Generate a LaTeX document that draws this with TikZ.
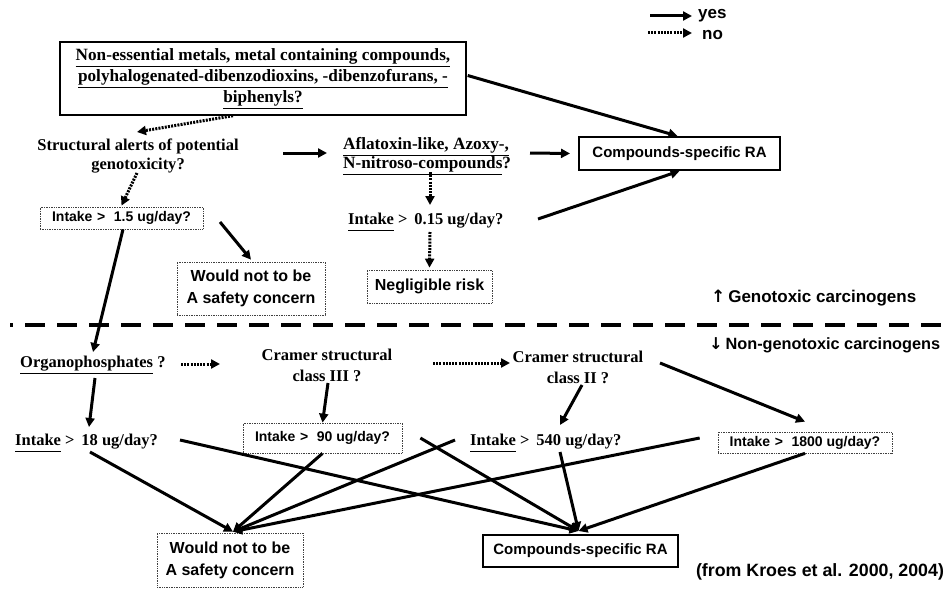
\documentclass[tikz,border=0pt]{standalone}
\usepackage{fontspec}
\setmainfont{Liberation Serif}
\setsansfont{Liberation Sans}
\newfontfamily\arrfont{DejaVu Sans}
\usetikzlibrary{arrows.meta,calc}
% underlined text with a common depth
\newcommand{\undl}[1]{\underline{#1\vphantom{gy}}}

\begin{document}
\begin{tikzpicture}[x=1pt,y=-1pt,
  qtext/.style={font=\fontsize{16.5}{19}\selectfont\bfseries, align=center, inner sep=0pt},
  stext/.style={font=\sffamily\bfseries\fontsize{14}{16}\selectfont, align=center, inner sep=0pt},
  dotbox/.style={draw=black!75, densely dotted, line width=0.7pt},
  rabox/.style={draw=black, line width=2pt, font=\sffamily\bfseries\fontsize{15}{17}\selectfont, inner sep=0pt},
  yesarrow/.style={line width=3pt, -{Triangle[length=9pt,width=9pt]}},
  noarrow/.style={yesarrow, dash pattern=on 2pt off 1.2pt},
]
\useasboundingbox (0,0) rectangle (949,591);

% ---- legend
\coordinate (yesA) at (650,16);
\node[stext, font=\sffamily\bfseries\fontsize{17}{19}\selectfont, anchor=west] (yes) at (698,16) {yes};
\coordinate (noA) at (648,33);
\node[stext, font=\sffamily\bfseries\fontsize{17}{19}\selectfont, anchor=west] (no) at (702,35) {no};
\draw[yesarrow] (yesA) -- ($(yes.west)+(-6,0)$);
\draw[noarrow] (noA) -- ($(no.west)+(-10,-2)$);

% ---- genotoxic part
\node[draw=black, line width=1.4pt, minimum width=406pt, minimum height=73pt,
      qtext, font=\fontsize{17.2}{21}\selectfont\bfseries] (top) at (263,78.5)
  {\undl{Non-essential metals, metal containing compounds,}\\
   \undl{polyhalogenated-dibenzodioxins, -dibenzofurans, -}\\
   \undl{biphenyls?}};

\node[qtext] (q1) at (138,156) {Structural alerts of potential\\genotoxicity?};
\node[qtext, font=\fontsize{17.2}{19}\selectfont\bfseries, align=left, anchor=west] (q2) at (343,156)
  {\undl{Aflatoxin-like, Azoxy-,}\\\undl{N-nitroso-compounds}?};
\node[rabox, minimum width=201pt, minimum height=33pt] (ra1) at (679.5,153.5) {Compounds-specific RA};

\node[dotbox, stext, minimum width=163pt, minimum height=22pt] (i15) at (121.5,218) {Intake\,\,{>}\,\, 1.5 ug/day?};
\node[dotbox, stext, font=\sffamily\bfseries\fontsize{16}{22}\selectfont, minimum width=148pt, minimum height=53pt] (safe1) at (251,288.5) {Would not to be\\A safety concern};
\node[qtext, anchor=west] (i015) at (348,222) {\undl{Intake} > \,0.15 ug/day?};
\node[dotbox, stext, font=\sffamily\bfseries\fontsize{16}{18}\selectfont, minimum width=125pt, minimum height=33pt] (negl) at (429.5,286.5) {Negligible risk};

\node[stext, font=\sffamily\bfseries\fontsize{17}{19}\selectfont, anchor=west] (geno) at (711,298) {{\arrfont ↑}\,Genotoxic carcinogens};

% ---- separator between the two groups
\draw[line width=4pt, dash pattern=on 20pt off 12pt, dash phase=17pt] (10,325) -- (941,325);

% ---- non-genotoxic part
\node[stext, font=\sffamily\bfseries\fontsize{16.3}{19}\selectfont, anchor=west] (nongeno) at (709,345) {{\arrfont ↓}\,Non-genotoxic carcinogens};

\node[qtext, anchor=west] (org) at (20,365) {\undl{Organophosphates} ?};
\node[qtext, font=\fontsize{16.5}{21}\selectfont\bfseries] (c3) at (327,365) {Cramer structural\\class III ?};
\node[qtext, font=\fontsize{16.5}{21}\selectfont\bfseries] (c2) at (578,367) {Cramer structural\\class II ?};

\node[qtext, anchor=west] (i18) at (15,443) {\undl{Intake} > \,18 ug/day?};
\node[dotbox, stext, minimum width=159pt, minimum height=30pt] (i90) at (322.5,438) {Intake\,\,{>}\,\, 90 ug/day?};
\node[qtext, anchor=west] (i540) at (470,443) {\undl{Intake} > \,540 ug/day?};
\node[dotbox, stext, minimum width=174pt, minimum height=21pt] (i1800) at (805,442.5) {Intake\,\,{>}\,\, 1800 ug/day?};

\node[dotbox, stext, font=\sffamily\bfseries\fontsize{16}{22}\selectfont, minimum width=146pt, minimum height=54pt] (safe2) at (230,560) {Would not to be\\A safety concern};
\node[rabox, minimum width=195pt, minimum height=32pt] (ra2) at (580.5,551) {Compounds-specific RA};

\node[stext, font=\sffamily\bfseries\fontsize{17.8}{20}\selectfont] (credit) at (820,572) {(from Kroes et al. 2000, 2004)};

% ---- connectors, upper part
\draw[noarrow]  ($(top.south)+(-30,0)$) -- ($(q1.center)+(-1,-24)$);
\draw[yesarrow] ($(top.east)+(1,-3)$) -- ($(ra1.north)+(-2,0)$);
\draw[yesarrow] ($(q1.center)+(145,-3)$) -- ($(q2.west)+(-16,-3)$);
\draw[yesarrow] ($(q2.west)+(187,-3)$) -- ($(ra1.west)+(-8,0)$);
\draw[noarrow]  ($(q1.center)+(-1,17)$) -- ($(i15.north)+(0,-1)$);
\draw[yesarrow] ($(i15.center)+(98.5,4)$) -- ($(safe1.north)+(0,-2)$);
\draw[yesarrow] ($(i15.south)+(1.5,0)$) -- ($(org.west)+(73,-13)$);
\draw[noarrow]  ($(q2.west)+(87,16)$) -- ($(i015.west)+(82,-17)$);
\draw[yesarrow] ($(i015.west)+(190,-3)$) -- (ra1.south);
\draw[noarrow]  ($(i015.west)+(82,10)$) -- ($(negl.north)+(0,-2)$);

% ---- connectors, lower part
\draw[noarrow]  ($(org.west)+(161,-1)$) -- ($(c3.center)+(-107,-1)$);
\draw[noarrow]  ($(c3.center)+(106,-2)$) -- ($(c2.center)+(-68,-4)$);
\draw[yesarrow] ($(c2.center)+(82,-4)$) -- ($(i1800.north)+(0,-10)$);
\draw[yesarrow] ($(c2.center)+(4,18)$) -- ($(i540.west)+(90,-18)$);
\draw[yesarrow] ($(org.west)+(75,13)$) -- ($(i18.west)+(74,-16)$);
\draw[yesarrow] ($(c3.center)+(1,18)$) -- (i90.north);

% fan into the two end boxes
\draw[yesarrow] ($(i18.west)+(75,9)$) -- ($(safe2.north)+(3,-1)$);
\draw[yesarrow] (i90.south) -- ($(safe2.north)+(3,-1)$);
\draw[yesarrow] ($(i540.west)+(-15,-3)$) -- ($(safe2.north)+(3,-1)$);
\draw[yesarrow] ($(i1800.west)+(-18,-4.5)$) -- ($(safe2.north)+(3,-1)$);
\draw[yesarrow] ($(i18.west)+(165,-3)$) -- ($(ra2.north)+(-2,-3)$);
\draw[yesarrow] ($(i90.east)+(18,0)$) -- ($(ra2.north)+(-2,-3)$);
\draw[yesarrow] ($(i540.west)+(90,9)$) -- ($(ra2.north)+(-2,-3)$);
\draw[yesarrow] (i1800.south) -- ($(ra2.north)+(-2,-3)$);
\end{tikzpicture}
\end{document}
